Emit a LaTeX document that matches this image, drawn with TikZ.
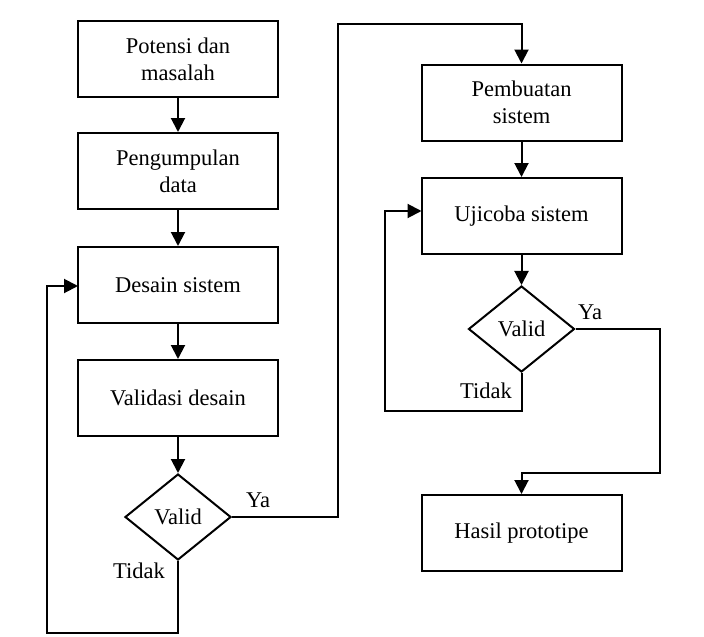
\documentclass[tikz,border=0pt]{standalone}
\usepackage{fontspec}
\setmainfont{Liberation Serif}[Ligatures=TeX]
\usetikzlibrary{shapes.geometric,arrows.meta}
\begin{document}
\begin{tikzpicture}[x=1pt,y=-1pt,
  every node/.style={font=\rmfamily\fontsize{22.5}{27}\selectfont},
  procbox/.style={draw,line width=2pt,minimum width=200pt,minimum height=76pt,align=center,inner sep=0pt},
  decision/.style={draw,diamond,line width=2pt,minimum width=106pt,minimum height=86pt,inner sep=0pt},
  conn/.style={line width=2pt,line join=miter},
  arr/.style={conn,-{Triangle[length=14pt,width=14pt]}},
  lbl/.style={inner sep=0pt}]
\useasboundingbox (0,0) rectangle (704,637);
% left column
\node[procbox] (b1) at (178,59) {Potensi dan\\masalah};
\node[procbox] (b2) at (178,171) {Pengumpulan\\data};
\node[procbox] (b3) at (178,285) {Desain sistem};
\node[procbox] (b4) at (178,398) {Validasi desain};
\node[decision] (d1) at (178,517) {Valid};
% right column
\node[procbox] (b5) at (521.5,102.5) {Pembuatan\\sistem};
\node[procbox] (b6) at (521.5,216) {Ujicoba sistem};
\node[decision] (d2) at (521.5,329) {Valid};
\node[procbox] (b7) at (521.5,533) {Hasil prototipe};
% labels
\node[lbl] (ya1) at (258,500) {Ya};
\node[lbl] (ti1) at (139,571) {Tidak};
\node[lbl] (ya2) at (590,312) {Ya};
\node[lbl] (ti2) at (486,391) {Tidak};
% waypoints
\coordinate (p1) at (338,517);
\coordinate (p2) at (338,24);
\coordinate (p3) at (521.5,24);
\coordinate (q1) at (178,633);
\coordinate (q2) at (47,633);
\coordinate (q3) at (47,286);
\coordinate (q4) at (78,286);
\coordinate (r1) at (660,329);
\coordinate (r2) at (660,473);
\coordinate (r3) at (521.5,473);
\coordinate (s1) at (521.5,411);
\coordinate (s2) at (385,411);
\coordinate (s3) at (385,211);
\coordinate (s4) at (421.5,211);
% connectors
\draw[arr] (b1) -- (b2);
\draw[arr] (b2) -- (b3);
\draw[arr] (b3) -- (b4);
\draw[arr] (b4) -- (d1);
\draw[arr] (d1.east) -- (p1) -- (p2) -- (p3) -- (b5.north);
\draw[arr] (d1.south) -- (q1) -- (q2) -- (q3) -- (q4);
\draw[arr] (b5) -- (b6);
\draw[arr] (b6) -- (d2);
\draw[arr] (d2.east) -- (r1) -- (r2) -- (r3) -- (b7.north);
\draw[arr] (d2.south) -- (s1) -- (s2) -- (s3) -- (s4);
\end{tikzpicture}
\end{document}
